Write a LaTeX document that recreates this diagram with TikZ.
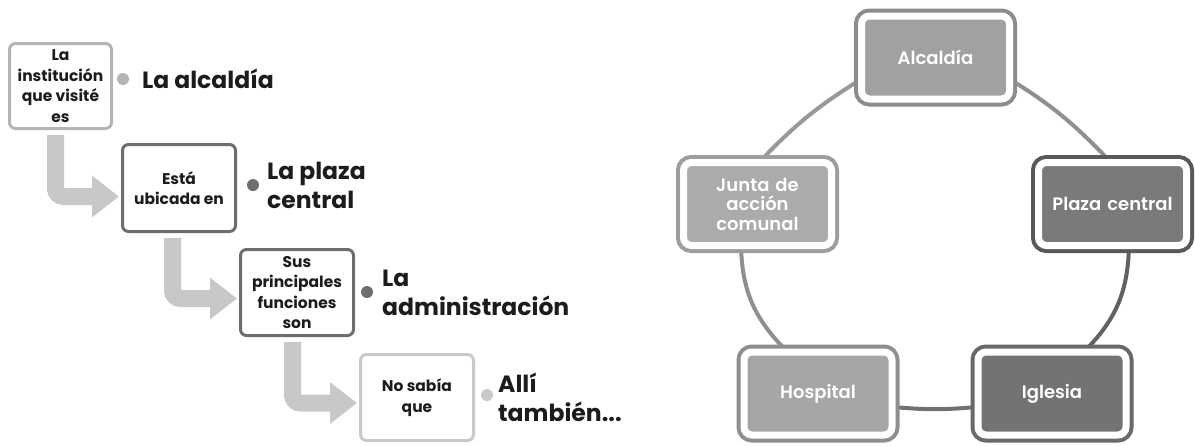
\documentclass[tikz,border=0pt]{standalone}
\usepackage{fontspec}
\setmainfont{Poppins}
\newfontfamily\semibold{Poppins SemiBold}
\usetikzlibrary{arrows.meta,backgrounds}

\definecolor{arrowgray}{HTML}{C8C8C8}
\definecolor{linelight}{HTML}{B4B4B4}
\definecolor{linedark}{HTML}{6E6E6E}
\definecolor{linepale}{HTML}{C9C9C9}
\definecolor{inkgray}{HTML}{1C1C1C}

\begin{document}
\begin{tikzpicture}[
        x=1pt, y=1pt,
        qbox/.style={draw, rounded corners=6pt, line width=3pt, fill=white, minimum width=113pt, minimum height=86pt,
            align=center, inner sep=2pt, text=inkgray, font=\bfseries\fontsize{15.5}{20.5}\selectfont},
        bullet/.style={circle, minimum size=12pt, inner sep=0pt},
        answer/.style={anchor=west, align=left, inner sep=0pt, text=inkgray, font=\bfseries\fontsize{23.5}{29}\selectfont},
        link/.style={draw=arrowgray, line width=17pt, rounded corners=8pt, -{Triangle[width=40pt, length=27pt]},
            shorten <=5pt, shorten >=2pt},
        cell/.style 2 args={rounded corners=8pt, fill=#1, draw=white, line width=7pt, preaction={draw=#2, line width=15pt},
            minimum width=148pt, minimum height=83pt, text width=130pt, align=center, text=white,
            font=\semibold\fontsize{18}{19.5}\selectfont},
        ring/.style={line width=4pt},
    ]
    \useasboundingbox (0,0) rectangle (1195,-445);

    % left: questions and answers
    \node[qbox, draw=linelight, minimum width=102pt, minimum height=85pt] (q1) at (60.5,-86) {La\\institución\\que visité\\es};
    \node[qbox, draw=linedark, minimum height=87pt] (q2) at (179,-188) {Está\\ubicada en};
    \node[qbox, draw=linedark] (q3) at (297,-292.5) {Sus\\principales\\funciones\\son};
    \node[qbox, draw=linepale] (q4) at (417,-397.5) {No sabía\\que};

    \node[bullet, fill=linelight] (d1) at (123,-79) {};
    \node[bullet, fill=linedark] (d2) at (253,-185) {};
    \node[bullet, fill=linedark] (d3) at (367,-292) {};
    \node[bullet, fill=linepale] (d4) at (487,-395) {};

    \node[answer] (a1) at (142,-79) {La alcaldía};
    \node[answer] (a2) at (267,-185) {La plaza\\central};
    \node[answer] (a3) at (382,-293) {La\\administración};
    \node[answer] (a4) at (498,-397) {Allí\\también...};

    \draw[link] ([xshift=-5pt]q1.south) |- ([yshift=-8.5pt]q2.west);
    \draw[link] ([xshift=-6.5pt]q2.south) |- ([yshift=-6pt]q3.west);
    \draw[link] ([xshift=-4.5pt]q3.south) |- ([yshift=-5.5pt]q4.west);

    % right: cycle
    \node[cell={black!37}{black!45}] (alc) at (935.5,-57.5) {Alcaldía};
    \node[cell={black!52}{black!65}] (plaza) at (1112.5,-204) {Plaza central};
    \node[cell={black!55}{black!59}] (igl) at (1052,-393.5) {Iglesia};
    \node[cell={black!35}{black!44}] (hosp) at (818,-393.5) {Hospital};
    \node[cell={black!33}{black!38}] (junta) at (757.5,-204) {Junta de\\acción\\comunal};

    \begin{scope}[on background layer]
        \draw[ring, black!44] (alc.-17) to[out=-32, in=134] (plaza.96);
        \draw[ring, black!62] (plaza.-70) to[out=-92, in=46] (igl.52);
        \draw[ring, black!56] (igl.190) to[out=185, in=-5] (hosp.-10);
        \draw[ring, black!44] (hosp.127) to[out=134, in=-88] (junta.-110);
        \draw[ring, black!40] (junta.84) to[out=46, in=212] (alc.197);
    \end{scope}
\end{tikzpicture}
\end{document}
